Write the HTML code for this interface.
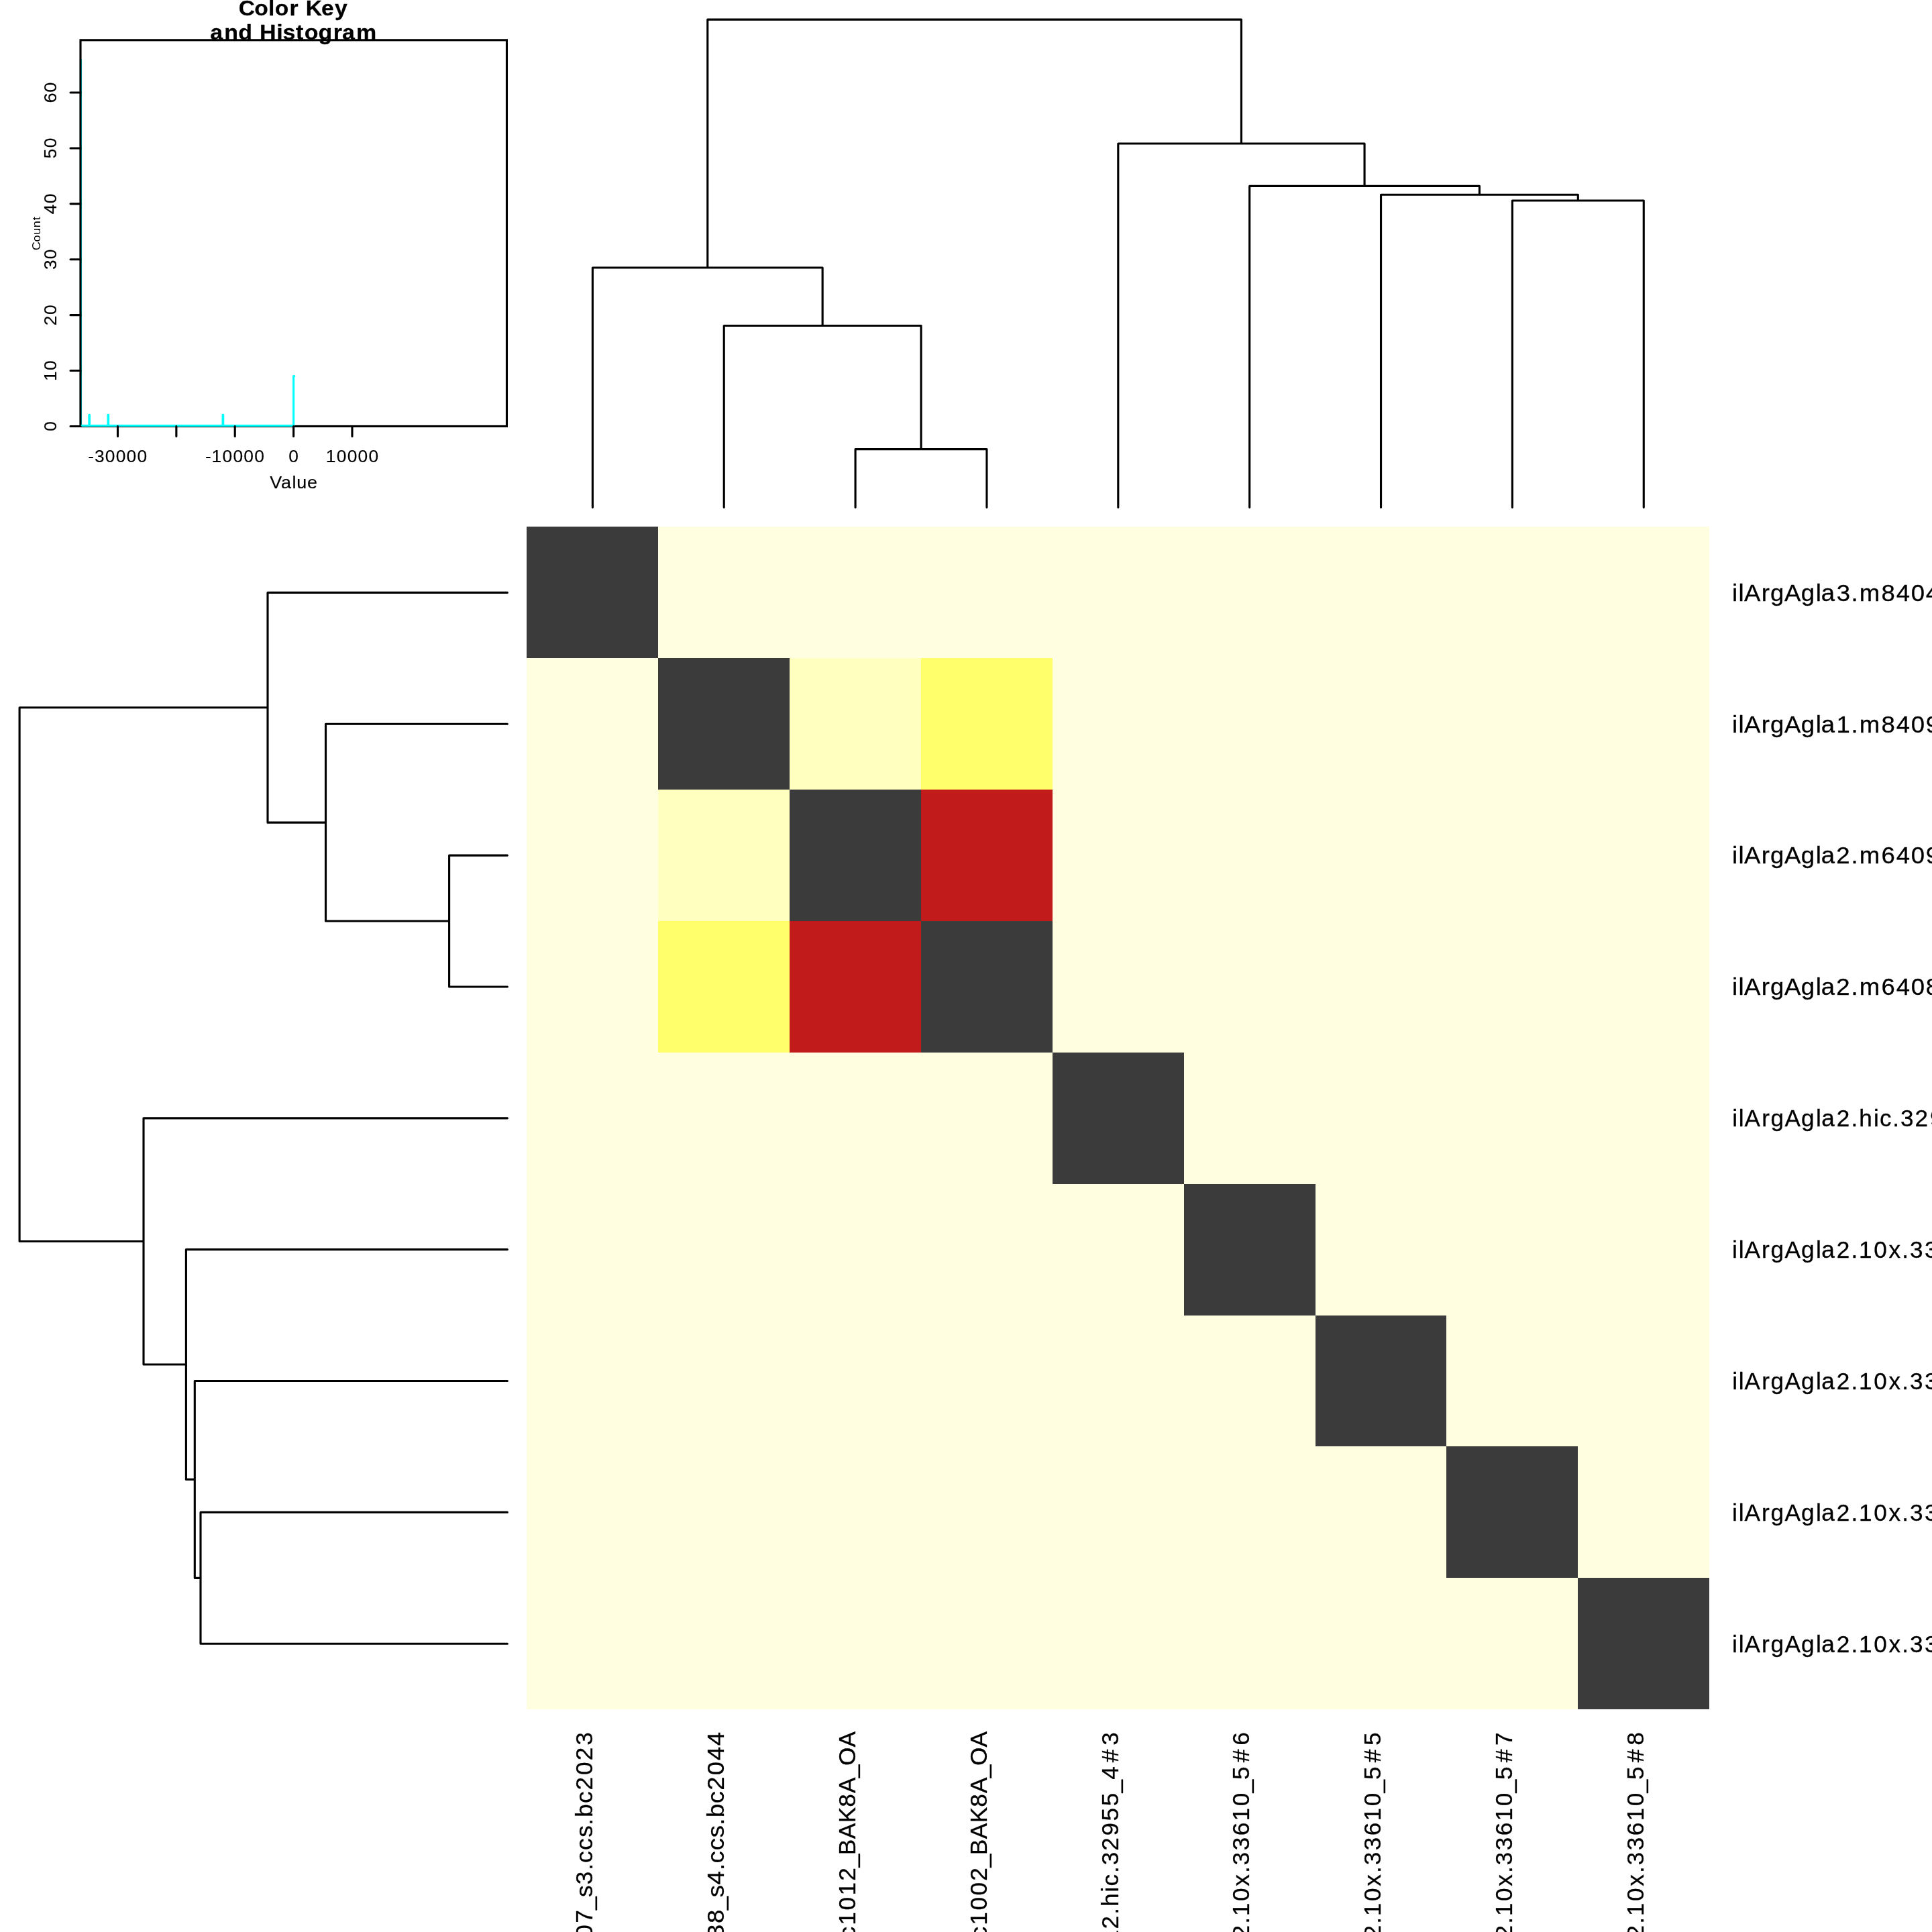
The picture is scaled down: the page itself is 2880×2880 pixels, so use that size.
<!DOCTYPE html><html><head><meta charset="utf-8"><style>html,body{margin:0;padding:0;background:#fff;width:2880px;height:2880px;overflow:hidden}svg{display:block;will-change:transform}text{font-family:"Liberation Sans",sans-serif}</style></head><body>
<svg width="2880" height="2880" viewBox="0 0 2880 2880">
<rect x="0" y="0" width="2880" height="2880" fill="#fff"/>
<g shape-rendering="crispEdges">
<rect x="785.45" y="785.45" width="195.86" height="195.86" fill="#3B3B3B"/>
<rect x="981.31" y="785.45" width="195.86" height="195.86" fill="#FFFEE0"/>
<rect x="1177.17" y="785.45" width="195.86" height="195.86" fill="#FFFEE0"/>
<rect x="1373.03" y="785.45" width="195.86" height="195.86" fill="#FFFEE0"/>
<rect x="1568.89" y="785.45" width="195.86" height="195.86" fill="#FFFEE0"/>
<rect x="1764.75" y="785.45" width="195.86" height="195.86" fill="#FFFEE0"/>
<rect x="1960.61" y="785.45" width="195.86" height="195.86" fill="#FFFEE0"/>
<rect x="2156.47" y="785.45" width="195.86" height="195.86" fill="#FFFEE0"/>
<rect x="2352.33" y="785.45" width="195.86" height="195.86" fill="#FFFEE0"/>
<rect x="785.45" y="981.31" width="195.86" height="195.86" fill="#FFFEE0"/>
<rect x="981.31" y="981.31" width="195.86" height="195.86" fill="#3B3B3B"/>
<rect x="1177.17" y="981.31" width="195.86" height="195.86" fill="#FFFFBF"/>
<rect x="1373.03" y="981.31" width="195.86" height="195.86" fill="#FFFF6B"/>
<rect x="1568.89" y="981.31" width="195.86" height="195.86" fill="#FFFEE0"/>
<rect x="1764.75" y="981.31" width="195.86" height="195.86" fill="#FFFEE0"/>
<rect x="1960.61" y="981.31" width="195.86" height="195.86" fill="#FFFEE0"/>
<rect x="2156.47" y="981.31" width="195.86" height="195.86" fill="#FFFEE0"/>
<rect x="2352.33" y="981.31" width="195.86" height="195.86" fill="#FFFEE0"/>
<rect x="785.45" y="1177.17" width="195.86" height="195.86" fill="#FFFEE0"/>
<rect x="981.31" y="1177.17" width="195.86" height="195.86" fill="#FFFFBF"/>
<rect x="1177.17" y="1177.17" width="195.86" height="195.86" fill="#3B3B3B"/>
<rect x="1373.03" y="1177.17" width="195.86" height="195.86" fill="#C11B1B"/>
<rect x="1568.89" y="1177.17" width="195.86" height="195.86" fill="#FFFEE0"/>
<rect x="1764.75" y="1177.17" width="195.86" height="195.86" fill="#FFFEE0"/>
<rect x="1960.61" y="1177.17" width="195.86" height="195.86" fill="#FFFEE0"/>
<rect x="2156.47" y="1177.17" width="195.86" height="195.86" fill="#FFFEE0"/>
<rect x="2352.33" y="1177.17" width="195.86" height="195.86" fill="#FFFEE0"/>
<rect x="785.45" y="1373.03" width="195.86" height="195.86" fill="#FFFEE0"/>
<rect x="981.31" y="1373.03" width="195.86" height="195.86" fill="#FFFF6B"/>
<rect x="1177.17" y="1373.03" width="195.86" height="195.86" fill="#C11B1B"/>
<rect x="1373.03" y="1373.03" width="195.86" height="195.86" fill="#3B3B3B"/>
<rect x="1568.89" y="1373.03" width="195.86" height="195.86" fill="#FFFEE0"/>
<rect x="1764.75" y="1373.03" width="195.86" height="195.86" fill="#FFFEE0"/>
<rect x="1960.61" y="1373.03" width="195.86" height="195.86" fill="#FFFEE0"/>
<rect x="2156.47" y="1373.03" width="195.86" height="195.86" fill="#FFFEE0"/>
<rect x="2352.33" y="1373.03" width="195.86" height="195.86" fill="#FFFEE0"/>
<rect x="785.45" y="1568.89" width="195.86" height="195.86" fill="#FFFEE0"/>
<rect x="981.31" y="1568.89" width="195.86" height="195.86" fill="#FFFEE0"/>
<rect x="1177.17" y="1568.89" width="195.86" height="195.86" fill="#FFFEE0"/>
<rect x="1373.03" y="1568.89" width="195.86" height="195.86" fill="#FFFEE0"/>
<rect x="1568.89" y="1568.89" width="195.86" height="195.86" fill="#3B3B3B"/>
<rect x="1764.75" y="1568.89" width="195.86" height="195.86" fill="#FFFEE0"/>
<rect x="1960.61" y="1568.89" width="195.86" height="195.86" fill="#FFFEE0"/>
<rect x="2156.47" y="1568.89" width="195.86" height="195.86" fill="#FFFEE0"/>
<rect x="2352.33" y="1568.89" width="195.86" height="195.86" fill="#FFFEE0"/>
<rect x="785.45" y="1764.75" width="195.86" height="195.86" fill="#FFFEE0"/>
<rect x="981.31" y="1764.75" width="195.86" height="195.86" fill="#FFFEE0"/>
<rect x="1177.17" y="1764.75" width="195.86" height="195.86" fill="#FFFEE0"/>
<rect x="1373.03" y="1764.75" width="195.86" height="195.86" fill="#FFFEE0"/>
<rect x="1568.89" y="1764.75" width="195.86" height="195.86" fill="#FFFEE0"/>
<rect x="1764.75" y="1764.75" width="195.86" height="195.86" fill="#3B3B3B"/>
<rect x="1960.61" y="1764.75" width="195.86" height="195.86" fill="#FFFEE0"/>
<rect x="2156.47" y="1764.75" width="195.86" height="195.86" fill="#FFFEE0"/>
<rect x="2352.33" y="1764.75" width="195.86" height="195.86" fill="#FFFEE0"/>
<rect x="785.45" y="1960.61" width="195.86" height="195.86" fill="#FFFEE0"/>
<rect x="981.31" y="1960.61" width="195.86" height="195.86" fill="#FFFEE0"/>
<rect x="1177.17" y="1960.61" width="195.86" height="195.86" fill="#FFFEE0"/>
<rect x="1373.03" y="1960.61" width="195.86" height="195.86" fill="#FFFEE0"/>
<rect x="1568.89" y="1960.61" width="195.86" height="195.86" fill="#FFFEE0"/>
<rect x="1764.75" y="1960.61" width="195.86" height="195.86" fill="#FFFEE0"/>
<rect x="1960.61" y="1960.61" width="195.86" height="195.86" fill="#3B3B3B"/>
<rect x="2156.47" y="1960.61" width="195.86" height="195.86" fill="#FFFEE0"/>
<rect x="2352.33" y="1960.61" width="195.86" height="195.86" fill="#FFFEE0"/>
<rect x="785.45" y="2156.47" width="195.86" height="195.86" fill="#FFFEE0"/>
<rect x="981.31" y="2156.47" width="195.86" height="195.86" fill="#FFFEE0"/>
<rect x="1177.17" y="2156.47" width="195.86" height="195.86" fill="#FFFEE0"/>
<rect x="1373.03" y="2156.47" width="195.86" height="195.86" fill="#FFFEE0"/>
<rect x="1568.89" y="2156.47" width="195.86" height="195.86" fill="#FFFEE0"/>
<rect x="1764.75" y="2156.47" width="195.86" height="195.86" fill="#FFFEE0"/>
<rect x="1960.61" y="2156.47" width="195.86" height="195.86" fill="#FFFEE0"/>
<rect x="2156.47" y="2156.47" width="195.86" height="195.86" fill="#3B3B3B"/>
<rect x="2352.33" y="2156.47" width="195.86" height="195.86" fill="#FFFEE0"/>
<rect x="785.45" y="2352.33" width="195.86" height="195.86" fill="#FFFEE0"/>
<rect x="981.31" y="2352.33" width="195.86" height="195.86" fill="#FFFEE0"/>
<rect x="1177.17" y="2352.33" width="195.86" height="195.86" fill="#FFFEE0"/>
<rect x="1373.03" y="2352.33" width="195.86" height="195.86" fill="#FFFEE0"/>
<rect x="1568.89" y="2352.33" width="195.86" height="195.86" fill="#FFFEE0"/>
<rect x="1764.75" y="2352.33" width="195.86" height="195.86" fill="#FFFEE0"/>
<rect x="1960.61" y="2352.33" width="195.86" height="195.86" fill="#FFFEE0"/>
<rect x="2156.47" y="2352.33" width="195.86" height="195.86" fill="#FFFEE0"/>
<rect x="2352.33" y="2352.33" width="195.86" height="195.86" fill="#3B3B3B"/>
</g>
<path d="M1054.76 29.09L1850.44 29.09 M1054.76 29.09L1054.76 399.00 M1850.44 29.09L1850.44 214.00 M883.38 399.00L1226.14 399.00 M883.38 399.00L883.38 756.36 M1226.14 399.00L1226.14 485.50 M1079.24 485.50L1373.03 485.50 M1079.24 485.50L1079.24 756.36 M1373.03 485.50L1373.03 669.60 M1275.10 669.60L1470.96 669.60 M1275.10 669.60L1275.10 756.36 M1470.96 669.60L1470.96 756.36 M1666.82 214.00L2034.06 214.00 M1666.82 214.00L1666.82 756.36 M2034.06 214.00L2034.06 277.40 M1862.68 277.40L2205.43 277.40 M1862.68 277.40L1862.68 756.36 M2205.43 277.40L2205.43 290.30 M2058.54 290.30L2352.33 290.30 M2058.54 290.30L2058.54 756.36 M2352.33 290.30L2352.33 299.00 M2254.40 299.00L2450.26 299.00 M2254.40 299.00L2254.40 756.36 M2450.26 299.00L2450.26 756.36" stroke="#000" stroke-width="3.125" stroke-linecap="round" fill="none"/>
<path d="M29.09 1054.76L29.09 1850.44 M29.09 1054.76L399.00 1054.76 M29.09 1850.44L214.00 1850.44 M399.00 883.38L399.00 1226.14 M399.00 883.38L756.36 883.38 M399.00 1226.14L485.50 1226.14 M485.50 1079.24L485.50 1373.03 M485.50 1079.24L756.36 1079.24 M485.50 1373.03L669.60 1373.03 M669.60 1275.10L669.60 1470.96 M669.60 1275.10L756.36 1275.10 M669.60 1470.96L756.36 1470.96 M214.00 1666.82L214.00 2034.06 M214.00 1666.82L756.36 1666.82 M214.00 2034.06L277.40 2034.06 M277.40 1862.68L277.40 2205.43 M277.40 1862.68L756.36 1862.68 M277.40 2205.43L290.30 2205.43 M290.30 2058.54L290.30 2352.33 M290.30 2058.54L756.36 2058.54 M290.30 2352.33L299.00 2352.33 M299.00 2254.40L299.00 2450.26 M299.00 2254.40L756.36 2254.40 M299.00 2450.26L756.36 2450.26" stroke="#000" stroke-width="3.125" stroke-linecap="round" fill="none"/>
<text transform="translate(2581.20 895.68) scale(1.0284 1)" font-size="35.52" x="0.75 10.10 18.39 43.43 56.24 76.68 100.67 122.18 129.98 152.33 173.29 185.30 217.25 238.68 260.12 281.56 302.93 322.21 340.83" y="0" fill="#000" stroke="#000" stroke-width="0.3" stroke-linejoin="round">ilArgAgla3.m84047_2</text>
<text transform="translate(2581.20 1091.54) scale(1.0285 1)" font-size="35.52" x="0.75 10.09 18.39 43.42 56.23 76.67 100.66 122.16 129.96 152.08 173.27 185.28 217.22 238.65 260.09 281.42 302.96 322.17 340.79" y="0" fill="#000" stroke="#000" stroke-width="0.3" stroke-linejoin="round">ilArgAgla1.m84098_2</text>
<text transform="translate(2581.20 1287.40) scale(1.0285 1)" font-size="35.52" x="0.75 10.09 18.39 43.42 56.23 76.67 100.66 122.16 129.96 151.82 173.27 185.28 217.23 238.65 260.09 281.42 302.95 322.17 340.79" y="0" fill="#000" stroke="#000" stroke-width="0.3" stroke-linejoin="round">ilArgAgla2.m64094_2</text>
<text transform="translate(2581.20 1483.26) scale(1.0285 1)" font-size="35.52" x="0.75 10.09 18.39 43.42 56.23 76.67 100.66 122.16 129.96 151.82 173.27 185.28 217.23 238.65 260.09 281.52 302.85 322.17 340.79" y="0" fill="#000" stroke="#000" stroke-width="0.3" stroke-linejoin="round">ilArgAgla2.m64089_2</text>
<text transform="translate(2581.20 1679.12) scale(0.9877 1)" font-size="35.52" x="0.95 10.68 19.64 45.50 58.95 80.33 105.22 127.38 135.78 158.51 180.65 192.44 214.35 223.51 243.07 254.92 276.73 299.40 321.70 344.02 364.16 384.01 409.90 435.78" y="0" fill="#000" stroke="#000" stroke-width="0.3" stroke-linejoin="round">ilArgAgla2.hic.32955_4#3</text>
<text transform="translate(2581.20 1874.98) scale(0.9913 1)" font-size="35.52" x="0.93 10.62 19.53 45.31 58.70 80.00 104.80 126.90 135.25 157.90 179.97 191.54 213.95 236.34 256.24 268.03 290.27 312.47 334.53 356.94 376.87 396.52 422.44 448.19" y="0" fill="#000" stroke="#000" stroke-width="0.3" stroke-linejoin="round">ilArgAgla2.10x.33610_5#6</text>
<text transform="translate(2581.20 2070.84) scale(0.9877 1)" font-size="35.52" x="0.95 10.68 19.64 45.50 58.95 80.33 105.22 127.38 135.78 158.51 180.65 192.28 214.77 237.24 257.20 269.05 291.37 313.65 335.80 358.29 378.30 398.01 424.03 449.73" y="0" fill="#000" stroke="#000" stroke-width="0.3" stroke-linejoin="round">ilArgAgla2.10x.33610_5#5</text>
<text transform="translate(2581.20 2266.70) scale(0.9913 1)" font-size="35.52" x="0.93 10.62 19.53 45.31 58.70 80.00 104.80 126.90 135.25 157.90 179.97 191.54 213.95 236.34 256.24 268.03 290.27 312.47 334.53 356.94 376.87 396.52 422.44 448.11" y="0" fill="#000" stroke="#000" stroke-width="0.3" stroke-linejoin="round">ilArgAgla2.10x.33610_5#7</text>
<text transform="translate(2581.20 2462.56) scale(0.9913 1)" font-size="35.52" x="0.93 10.62 19.53 45.31 58.70 80.00 104.80 126.90 135.25 157.90 179.97 191.54 213.95 236.34 256.24 268.03 290.27 312.47 334.53 356.94 376.87 396.52 422.44 448.18" y="0" fill="#000" stroke="#000" stroke-width="0.3" stroke-linejoin="round">ilArgAgla2.10x.33610_5#8</text>
<text transform="translate(883.18 2581.00) rotate(-90) scale(0.9913 1)" font-size="35.52" x="-903.77 -894.08 -885.17 -859.39 -846.00 -824.70 -799.90 -777.80 -769.45 -746.30 -724.73 -711.90 -678.94 -656.71 -634.46 -612.23 -590.05 -570.05 -550.73 -528.04 -505.79 -483.56 -461.31 -439.08 -419.14 -399.53 -377.58 -354.83 -332.65 -310.40 -288.23 -268.23 -249.21 -230.19 -208.63 -197.80 -178.58 -159.22 -140.87 -128.91 -107.85 -88.18 -65.48 -43.70 -20.96" y="0" fill="#000" stroke="#000" stroke-width="0.3" stroke-linejoin="round">ilArgAgla3.m84047_240404_123407_s3.ccs.bc2023</text>
<text transform="translate(1079.04 2581.00) rotate(-90) scale(1.0284 1)" font-size="35.52" x="-871.28 -861.94 -853.64 -828.61 -815.80 -795.35 -771.36 -749.86 -742.06 -719.93 -698.74 -686.73 -654.78 -633.35 -611.91 -590.58 -569.04 -549.82 -531.20 -509.32 -487.89 -466.45 -445.01 -423.58 -404.36 -385.48 -364.30 -342.38 -320.99 -299.50 -278.11 -258.90 -240.53 -222.28 -201.27 -190.98 -172.46 -153.78 -135.96 -124.63 -104.29 -85.35 -63.47 -42.04 -20.60" y="0" fill="#000" stroke="#000" stroke-width="0.3" stroke-linejoin="round">ilArgAgla1.m84098_240404_123438_s4.ccs.bc2044</text>
<text transform="translate(1274.90 2581.00) rotate(-90) scale(0.9913 1)" font-size="35.52" x="-1049.19 -1039.49 -1030.59 -1004.80 -991.41 -970.12 -945.32 -923.21 -914.87 -892.22 -870.15 -857.31 -824.35 -802.12 -779.88 -757.75 -735.41 -715.46 -696.14 -673.44 -651.21 -629.08 -606.90 -584.66 -564.55 -544.77 -522.64 -500.29 -478.06 -455.82 -433.58 -411.97 -401.14 -381.92 -362.56 -344.21 -332.25 -311.19 -291.23 -268.82 -246.76 -224.81 -204.41 -185.76 -161.78 -137.53 -113.82 -92.71 -69.97 -51.47 -23.81" y="0" fill="#000" stroke="#000" stroke-width="0.3" stroke-linejoin="round">ilArgAgla2.m64094_200911_090408.ccs.bc1012_BAK8A_OA</text>
<text transform="translate(1470.76 2581.00) rotate(-90) scale(0.9913 1)" font-size="35.52" x="-1049.19 -1039.49 -1030.59 -1004.80 -991.41 -970.12 -945.32 -923.21 -914.87 -892.22 -870.15 -857.31 -824.35 -802.12 -779.88 -757.64 -735.51 -715.46 -696.14 -673.44 -651.21 -629.08 -606.90 -584.66 -564.55 -544.77 -522.64 -500.29 -478.06 -455.82 -433.58 -411.97 -401.14 -381.92 -362.56 -344.21 -332.25 -311.19 -291.23 -268.82 -246.59 -224.81 -204.41 -185.76 -161.78 -137.53 -113.82 -92.71 -69.97 -51.47 -23.81" y="0" fill="#000" stroke="#000" stroke-width="0.3" stroke-linejoin="round">ilArgAgla2.m64089_200911_090408.ccs.bc1002_BAK8A_OA</text>
<text transform="translate(1666.62 2581.00) rotate(-90) scale(0.9877 1)" font-size="35.52" x="-455.83 -446.10 -437.14 -411.28 -397.83 -376.44 -351.56 -329.39 -321.00 -298.26 -276.13 -264.34 -242.42 -233.26 -213.71 -201.86 -180.05 -157.38 -135.08 -112.76 -92.61 -72.77 -46.88 -21.00" y="0" fill="#000" stroke="#000" stroke-width="0.3" stroke-linejoin="round">ilArgAgla2.hic.32955_4#3</text>
<text transform="translate(1862.48 2581.00) rotate(-90) scale(0.9913 1)" font-size="35.52" x="-468.26 -458.56 -449.66 -423.88 -410.49 -389.19 -364.39 -342.28 -333.94 -311.29 -289.22 -277.65 -255.24 -232.85 -212.94 -201.16 -178.92 -156.72 -134.66 -112.25 -92.31 -72.67 -46.74 -21.00" y="0" fill="#000" stroke="#000" stroke-width="0.3" stroke-linejoin="round">ilArgAgla2.10x.33610_5#6</text>
<text transform="translate(2058.34 2581.00) rotate(-90) scale(0.9877 1)" font-size="35.52" x="-469.96 -460.23 -451.27 -425.41 -411.96 -390.58 -365.69 -343.53 -335.13 -312.40 -290.26 -278.63 -256.14 -233.67 -213.71 -201.86 -179.54 -157.26 -135.11 -112.62 -92.61 -72.90 -46.88 -21.18" y="0" fill="#000" stroke="#000" stroke-width="0.3" stroke-linejoin="round">ilArgAgla2.10x.33610_5#5</text>
<text transform="translate(2254.20 2581.00) rotate(-90) scale(0.9913 1)" font-size="35.52" x="-468.26 -458.56 -449.66 -423.88 -410.49 -389.19 -364.39 -342.28 -333.94 -311.29 -289.22 -277.65 -255.24 -232.85 -212.94 -201.16 -178.92 -156.72 -134.66 -112.25 -92.31 -72.67 -46.74 -21.07" y="0" fill="#000" stroke="#000" stroke-width="0.3" stroke-linejoin="round">ilArgAgla2.10x.33610_5#7</text>
<text transform="translate(2450.06 2581.00) rotate(-90) scale(0.9913 1)" font-size="35.52" x="-468.26 -458.56 -449.66 -423.88 -410.49 -389.19 -364.39 -342.28 -333.94 -311.29 -289.22 -277.65 -255.24 -232.85 -212.94 -201.16 -178.92 -156.72 -134.66 -112.25 -92.31 -72.67 -46.74 -21.00" y="0" fill="#000" stroke="#000" stroke-width="0.3" stroke-linejoin="round">ilArgAgla2.10x.33610_5#8</text>
<path d="M120.5 89.4L120.5 634.6" stroke="#00FFFF" stroke-width="3.125" stroke-linecap="round" fill="none"/>
<rect x="120.0" y="59.8" width="635.45" height="575.65" stroke="#000" stroke-width="3.125" fill="none"/>
<clipPath id="kc"><rect x="120.0" y="59.8" width="636.45" height="576.15"/></clipPath>
<path d="M121.60 634.60L132.90 634.60L132.90 618.4L133.50 618.4L133.50 634.60L161.00 634.60L161.00 618.4L161.60 618.4L161.60 634.60L332.10 634.60L332.10 618.4L332.70 618.4L332.70 634.60L437.60 634.60L437.60 560.6L438.80 560.6" clip-path="url(#kc)" stroke="#00FFFF" stroke-width="3.125" stroke-linecap="round" stroke-linejoin="round" fill="none"/>
<path d="M120.0 635.45L105.0 635.45 M120.0 552.55L105.0 552.55 M120.0 469.65L105.0 469.65 M120.0 386.75L105.0 386.75 M120.0 303.85L105.0 303.85 M120.0 220.95L105.0 220.95 M120.0 138.05L105.0 138.05 M175.49 635.45L175.49 650.45 M262.86 635.45L262.86 650.45 M350.23 635.45L350.23 650.45 M437.60 635.45L437.60 650.45 M524.97 635.45L524.97 650.45" stroke="#000" stroke-width="3.125" stroke-linecap="round" fill="none"/>
<text transform="translate(83.60 635.45) rotate(-90) scale(1.0284 1)" font-size="25.62" x="-7.13" y="0" fill="#000" stroke="#000" stroke-width="0.15" stroke-linejoin="round">0</text>
<text transform="translate(83.60 552.55) rotate(-90) scale(1.0284 1)" font-size="25.62" x="-15.00 0.60" y="0" fill="#000" stroke="#000" stroke-width="0.15" stroke-linejoin="round">10</text>
<text transform="translate(83.60 469.65) rotate(-90) scale(1.0284 1)" font-size="25.62" x="-15.19 0.60" y="0" fill="#000" stroke="#000" stroke-width="0.15" stroke-linejoin="round">20</text>
<text transform="translate(83.60 386.75) rotate(-90) scale(1.0284 1)" font-size="25.62" x="-14.83 0.60" y="0" fill="#000" stroke="#000" stroke-width="0.15" stroke-linejoin="round">30</text>
<text transform="translate(83.60 303.85) rotate(-90) scale(1.0285 1)" font-size="25.62" x="-14.87 0.60" y="0" fill="#000" stroke="#000" stroke-width="0.15" stroke-linejoin="round">40</text>
<text transform="translate(83.60 220.95) rotate(-90) scale(1.0284 1)" font-size="25.62" x="-14.96 0.60" y="0" fill="#000" stroke="#000" stroke-width="0.15" stroke-linejoin="round">50</text>
<text transform="translate(83.60 138.05) rotate(-90) scale(1.0644 1)" font-size="25.62" x="-14.60 0.34" y="0" fill="#000" stroke="#000" stroke-width="0.15" stroke-linejoin="round">60</text>
<text transform="translate(175.49 688.60) scale(1.0284 1)" font-size="25.62" x="-42.93 -33.64 -18.21 -2.75 12.72 28.19" y="0" fill="#000" stroke="#000" stroke-width="0.15" stroke-linejoin="round">-30000</text>
<text transform="translate(350.23 688.60) scale(1.0284 1)" font-size="25.62" x="-42.93 -33.81 -18.21 -2.75 12.72 28.19" y="0" fill="#000" stroke="#000" stroke-width="0.15" stroke-linejoin="round">-10000</text>
<text transform="translate(437.60 688.60) scale(1.0284 1)" font-size="25.62" x="-7.13" y="0" fill="#000" stroke="#000" stroke-width="0.15" stroke-linejoin="round">0</text>
<text transform="translate(524.97 688.60) scale(1.0284 1)" font-size="25.62" x="-38.19 -22.60 -7.13 8.33 23.80" y="0" fill="#000" stroke="#000" stroke-width="0.15" stroke-linejoin="round">10000</text>
<text transform="translate(437.90 727.50) scale(1.0519 1)" font-size="25.62" x="-33.98 -18.05 -2.28 4.23 19.17" y="0" fill="#000" stroke="#000" stroke-width="0.15" stroke-linejoin="round">Value</text>
<text transform="translate(59.80 347.40) rotate(-90) scale(1.0519 1)" font-size="17.32" x="-24.60 -12.54 -2.57 7.68 18.26" y="0" fill="#000">Count</text>
<text transform="translate(437.70 22.80) scale(1.0746 1)" font-size="31.29" font-weight="bold" x="-76.37 -54.51 -35.01 -25.95 -5.79 7.28 16.70 38.50 56.97" y="0" fill="#000" stroke="#000" stroke-width="0.25" stroke-linejoin="round">Color Key</text>
<text transform="translate(437.70 58.70) scale(1.0843 1)" font-size="31.29" font-weight="bold" x="-114.76 -95.49 -76.04 -56.06 -46.72 -23.55 -14.88 3.08 14.87 34.02 54.55 66.62 86.04" y="0" fill="#000" stroke="#000" stroke-width="0.25" stroke-linejoin="round">and Histogram</text>
</svg></body></html>
